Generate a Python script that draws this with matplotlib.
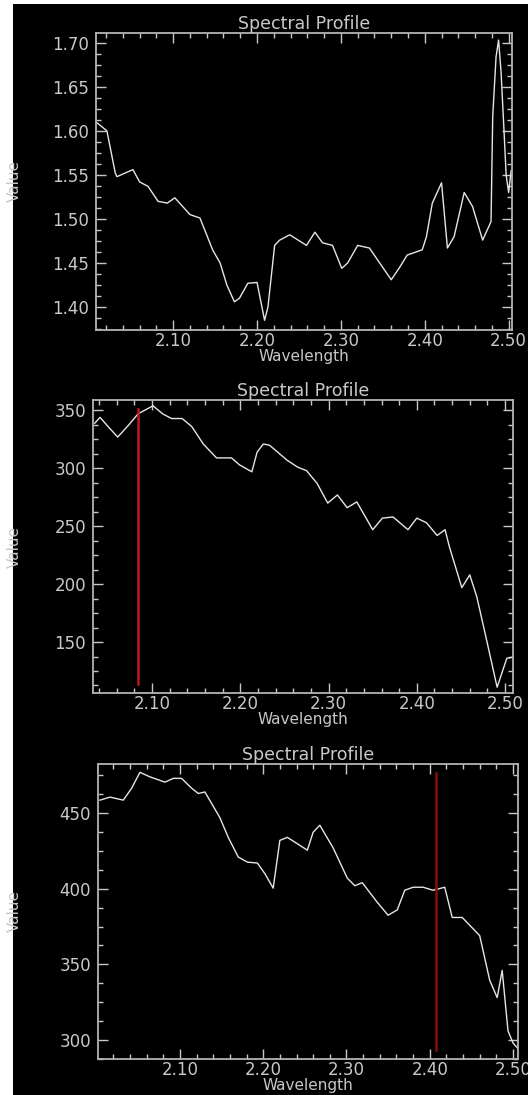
import matplotlib
matplotlib.use('Agg')
import matplotlib.pyplot as plt
from matplotlib.patches import Rectangle
from matplotlib.ticker import MultipleLocator, AutoMinorLocator, FormatStrFormatter

# panel 1 spectrum
wl_1 = [2.008, 2.021, 2.031, 2.033, 2.052, 2.060, 2.070, 2.082, 2.093, 2.102,
        2.120, 2.132, 2.147, 2.156, 2.164, 2.173, 2.179, 2.189, 2.200, 2.209,
        2.213, 2.221, 2.227, 2.239, 2.259, 2.269, 2.278, 2.290, 2.301, 2.308,
        2.320, 2.334, 2.360, 2.370, 2.379, 2.397, 2.402, 2.409, 2.420, 2.427,
        2.435, 2.447, 2.457, 2.469, 2.479, 2.481, 2.485, 2.488, 2.491, 2.495,
        2.497, 2.500, 2.503]
val_1 = [1.610, 1.600, 1.552, 1.548, 1.556, 1.542, 1.537, 1.520, 1.518, 1.524,
         1.505, 1.501, 1.465, 1.450, 1.425, 1.406, 1.410, 1.427, 1.428, 1.385,
         1.400, 1.470, 1.476, 1.482, 1.470, 1.485, 1.473, 1.470, 1.444, 1.450,
         1.470, 1.467, 1.431, 1.445, 1.459, 1.465, 1.480, 1.518, 1.541, 1.467,
         1.480, 1.530, 1.514, 1.476, 1.497, 1.616, 1.684, 1.703, 1.666, 1.590,
         1.550, 1.530, 1.555]

# panel 2 spectrum
wl_2 = [2.035, 2.041, 2.049, 2.061, 2.073, 2.084, 2.101, 2.112, 2.122, 2.134,
        2.145, 2.158, 2.173, 2.190, 2.199, 2.213, 2.219, 2.226, 2.233, 2.253,
        2.265, 2.275, 2.287, 2.299, 2.310, 2.321, 2.332, 2.350, 2.361, 2.373,
        2.390, 2.400, 2.411, 2.423, 2.432, 2.437, 2.451, 2.460, 2.468, 2.479,
        2.491, 2.502, 2.509]
val_2 = [339, 344, 337, 327, 337, 347, 354, 347, 343, 343,
         336, 321, 309, 309, 303, 297, 314, 321, 320, 307,
         301, 298, 287, 270, 277, 266, 271, 247, 257, 258,
         247, 257, 253, 242, 247, 232, 197, 208, 189, 152,
         111, 136, 137]

# panel 3 spectrum
wl_3 = [2.004, 2.016, 2.032, 2.042, 2.052, 2.064, 2.082, 2.092, 2.102, 2.114,
        2.122, 2.130, 2.148, 2.158, 2.170, 2.181, 2.193, 2.202, 2.212, 2.220,
        2.229, 2.253, 2.260, 2.268, 2.284, 2.301, 2.310, 2.319, 2.337, 2.350,
        2.361, 2.370, 2.380, 2.392, 2.404, 2.418, 2.427, 2.439, 2.460, 2.472,
        2.481, 2.487, 2.494, 2.500, 2.508]
val_3 = [458.6, 460.6, 458.6, 466.5, 477.0, 474.0, 470.5, 473.0, 473.0, 466.5,
         463.0, 464.0, 447.0, 434.0, 421.0, 417.6, 417.0, 410.0, 400.4, 432.0,
         434.0, 425.5, 437.4, 442.0, 427.0, 407.0, 402.0, 404.0, 391.0, 382.5,
         386.0, 399.0, 401.0, 401.0, 399.0, 401.0, 381.0, 381.0, 369.0, 339.5,
         328.0, 346.0, 306.0, 298.0, 293.0]

marker_wl = [None, 2.084, 2.408]
marker_color = [None, '#c01818', '#8a0c0c']

panels = [
    (wl_1, val_1, (2.008, 2.504), (1.374, 1.711), 0.05, '%.2f'),
    (wl_2, val_2, (2.033, 2.509), (106, 359), 50, '%d'),
    (wl_3, val_3, (2.0016, 2.506), (287.4, 482.5), 50, '%d'),
]
# axes boxes in pixels: left, top, right, bottom
boxes = [(96, 33, 512, 330), (93, 400, 513, 693), (98, 764, 518, 1059)]

W, H = 528, 1095
FG = '#c8c8c8'

fig = plt.figure(figsize=(W / 100, H / 100), dpi=100)
fig.patch.set_facecolor('white')
fig.patches.append(Rectangle((13 / W, 0), 1 - 13 / W, 1 - 4 / H, transform=fig.transFigure,
                             facecolor='black', edgecolor='none', zorder=-10))

for i, (wl, val, xlim, ylim, ystep, yfmt) in enumerate(panels):
    l, t, r, b = boxes[i]
    ax = fig.add_axes([l / W, 1 - b / H, (r - l) / W, (b - t) / H])
    ax.set_facecolor('black')
    ax.plot(wl, val, color='#e6e6e6', lw=1.0)
    if marker_wl[i] is not None:
        ax.axvline(marker_wl[i], ymin=0.03, ymax=0.97, color=marker_color[i], lw=1.8)
    ax.set_xlim(*xlim)
    ax.set_ylim(*ylim)

    ax.xaxis.set_major_locator(MultipleLocator(0.1))
    ax.xaxis.set_minor_locator(AutoMinorLocator(5))
    ax.xaxis.set_major_formatter(FormatStrFormatter('%.2f'))
    ax.yaxis.set_major_locator(MultipleLocator(ystep))
    ax.yaxis.set_minor_locator(AutoMinorLocator(4))
    ax.yaxis.set_major_formatter(FormatStrFormatter(yfmt))

    ax.tick_params(which='both', direction='in', top=True, right=True, colors=FG,
                   labelsize=12, width=1.0)
    ax.tick_params(which='major', length=7)
    ax.tick_params(which='minor', length=3.5)
    ax.tick_params(axis='x', pad=1.5)
    ax.tick_params(axis='y', pad=5)
    for s in ax.spines.values():
        s.set_color('#b4b4b4')
        s.set_linewidth(1.3)

    ax.set_title('Spectral Profile', color=FG, fontsize=12.5, pad=2)
    ax.set_xlabel('Wavelength', color=FG, fontsize=11, labelpad=-1)
    ax.set_ylabel('Value', color=FG, fontsize=11)
    ax.yaxis.set_label_coords((22 - l) / (r - l), 0.5)

plt.savefig('out.png', dpi=100, facecolor=fig.get_facecolor())
